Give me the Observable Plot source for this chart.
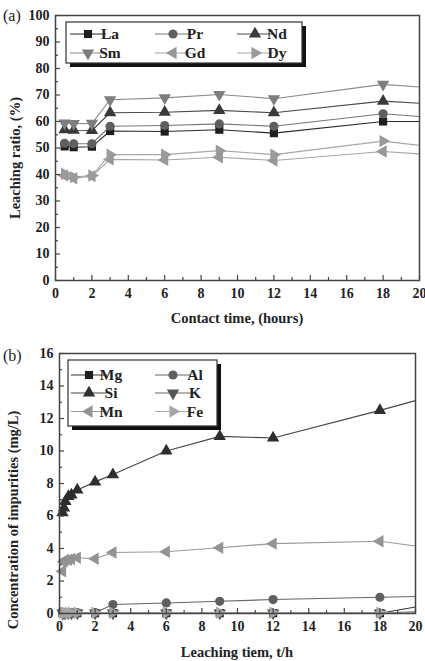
<!DOCTYPE html>
<html>
<head>
<meta charset="utf-8">
<script src="https://cdn.jsdelivr.net/npm/d3@7"></script>
<script src="https://cdn.jsdelivr.net/npm/@observablehq/plot@0.6"></script>
<style>
  body { margin: 0; background: #fff; }
  #wrap { position: relative; width: 425px; height: 661px; }
  #wrap > div { position: absolute; left: 0; }
  svg { display: block; }
</style>
</head>
<body>
<div id="wrap"><div id="pa" style="top:0"></div><div id="pb" style="top:330px"></div></div>
<script>
// ---------- Panel (a) data ----------
const timeA = [0.5, 1, 2, 3, 6, 9, 12, 18, 20];
const La = [50.6, 50.3, 50.5, 56.4, 56.2, 56.9, 55.6, 60.0, 60.0];
const Pr = [51.8, 51.6, 51.6, 58.2, 58.5, 59.1, 58.2, 62.9, 61.9];
const Nd = [56.9, 56.7, 56.6, 63.3, 63.5, 64.2, 63.3, 67.7, 66.9];
const Sm = [59.4, 59.2, 59.3, 68.2, 68.9, 70.2, 68.6, 74.0, 73.0];
const Gd = [39.6, 38.6, 39.4, 45.7, 45.5, 46.5, 45.3, 48.7, 47.8];
const Dy = [40.3, 39.0, 39.6, 47.5, 47.5, 49.0, 47.5, 52.6, 51.0];
const yTicksA = [0, 10, 20, 30, 40, 50, 60, 70, 80, 90, 100];
const xTicks = [0, 2, 4, 6, 8, 10, 12, 14, 16, 18, 20];

// ---------- Panel (b) data ----------
const timeB = [0.17, 0.25, 0.33, 0.5, 0.67, 1, 2, 3, 6, 9, 12, 18, 20];
const Mg = [0.02, 0.02, 0.02, 0.02, 0.02, 0.02, 0.02, 0.02, 0.02, 0.02, 0.02, 0.02, 0.4];
const Al = [0.05, 0.05, 0.05, 0.05, 0.05, 0.05, 0.05, 0.55, 0.65, 0.75, 0.86, 1.0, 1.05];
const Si = [6.2, 6.5, 6.9, 7.2, 7.3, 7.6, 8.1, 8.55, 10.0, 10.9, 10.8, 12.5, 13.1];
const K  = [0.03, 0.03, 0.03, 0.03, 0.03, 0.03, 0.03, 0.03, 0.03, 0.03, 0.03, 0.03, 0.1];
const Mn = [2.6, 3.2, 3.3, 3.3, 3.35, 3.43, 3.37, 3.75, 3.8, 4.05, 4.3, 4.45, 4.15];
const Fe = [0.05, 0.05, 0.05, 0.05, 0.05, 0.05, 0.05, 0.05, 0.05, 0.05, 0.05, 0.05, 0.05];
const yTicksB = [0, 2, 4, 6, 8, 10, 12, 14, 16];

// ---------- styles ----------
const FONT = "'Liberation Serif', 'Times New Roman', serif";
const stylesA = [
  {name: "La", values: La, symbol: "square",   rotate: 0,   fill: "#1e1e1e", stroke: "#2a2a2a"},
  {name: "Pr", values: Pr, symbol: "circle",   rotate: 0,   fill: "#5f5f5f", stroke: "#777"},
  {name: "Nd", values: Nd, symbol: "triangle", rotate: 0,   fill: "#3a3a3a", stroke: "#4a4a4a"},
  {name: "Sm", values: Sm, symbol: "triangle", rotate: 180, fill: "#7d7d7d", stroke: "#8a8a8a"},
  {name: "Gd", values: Gd, symbol: "triangle", rotate: -90, fill: "#979797", stroke: "#a5a5a5"},
  {name: "Dy", values: Dy, symbol: "triangle", rotate: 90,  fill: "#9a9a9a", stroke: "#a8a8a8"}
];
const stylesB = [
  {name: "Mg", values: Mg, symbol: "square",   rotate: 0,   fill: "#1e1e1e", stroke: "#333"},
  {name: "Al", values: Al, symbol: "circle",   rotate: 0,   fill: "#5f5f5f", stroke: "#666"},
  {name: "Si", values: Si, symbol: "triangle", rotate: 0,   fill: "#2e2e2e", stroke: "#444"},
  {name: "K",  values: K,  symbol: "triangle", rotate: 180, fill: "#555",    stroke: "#666"},
  {name: "Mn", values: Mn, symbol: "triangle", rotate: -90, fill: "#939393", stroke: "#999"},
  {name: "Fe", values: Fe, symbol: "triangle", rotate: 90,  fill: "#a5a5a5", stroke: "#aaa"}
];

function seriesMarks(times, styles, r) {
  const marks = [];
  for (const s of styles) {
    const rows = times.map((t, i) => ({t, v: s.values[i]}));
    marks.push(Plot.line(rows, {x: "t", y: "v", stroke: s.stroke, strokeWidth: 1.1}));
    marks.push(Plot.dot(rows.filter(d => d.t < 20), {x: "t", y: "v", symbol: s.symbol, rotate: s.rotate, r, fill: s.fill, stroke: "none"}));
  }
  return marks;
}

function makePanel({W, H, mL, mR, mT, mB, yDomain, yTicks, yMinor, xMinor, times, styles, r}) {
  const pw = W - mL - mR, ph = H - mT - mB;
  return Plot.plot({
    width: W, height: H,
    marginLeft: mL, marginRight: mR, marginTop: mT, marginBottom: mB,
    x: {domain: [0, 20]},
    y: {domain: yDomain},
    style: {fontFamily: FONT, fontSize: "14px", fontWeight: "bold", color: "#222", background: "#fff"},
    marks: [
      ...seriesMarks(times, styles, r),
      Plot.tickY(yTicks, {y: d => d, insetRight: pw - 5, stroke: "#444", strokeWidth: 1.2}),
      Plot.tickY(yMinor, {y: d => d, insetRight: pw - 3, stroke: "#444", strokeWidth: 1.2}),
      Plot.tickX(xTicks, {x: d => d, insetTop: ph - 5, stroke: "#444", strokeWidth: 1.2}),
      Plot.tickX(xMinor, {x: d => d, insetTop: ph - 3, stroke: "#444", strokeWidth: 1.2}),
      Plot.axisY({ticks: yTicks, tickSize: 0, tickPadding: 6, label: null, fill: "#222", fontSize: 14, fontWeight: "bold"}),
      Plot.axisX({ticks: xTicks, tickSize: 0, tickPadding: 8, label: null, fill: "#222", fontSize: 14, fontWeight: "bold"}),
      Plot.frame({stroke: "#444", strokeWidth: 1.5})
    ]
  });
}

function symbolPath(name, r) {
  const size = r * r * Math.PI;
  const t = name === "square" ? d3.symbolSquare : name === "circle" ? d3.symbolCircle : d3.symbolTriangle;
  return d3.symbol(t, size)();
}

function addLegend(svg, styles, box, cols, colX, rowY, r) {
  const g = d3.select(svg).append("g");
  g.append("rect").attr("x", box.x + 4).attr("y", box.y + 4).attr("width", box.w).attr("height", box.h).attr("fill", "#111");
  g.append("rect").attr("x", box.x).attr("y", box.y).attr("width", box.w).attr("height", box.h).attr("fill", "#fff").attr("stroke", "#333").attr("stroke-width", 1.2);
  styles.forEach((s, i) => {
    const c = i % cols, rr = Math.floor(i / cols);
    const x0 = colX[c], y0 = rowY[rr];
    g.append("line").attr("x1", x0).attr("x2", x0 + 36).attr("y1", y0).attr("y2", y0).attr("stroke", s.stroke).attr("stroke-width", 1.2);
    g.append("path").attr("d", symbolPath(s.symbol, r)).attr("transform", `translate(${x0 + 18},${y0}) rotate(${s.rotate})`).attr("fill", s.fill);
    g.append("text").attr("x", x0 + 40).attr("y", y0).attr("dy", "0.35em").attr("font-family", FONT).attr("font-weight", "bold").attr("font-size", "15.5px").attr("fill", "#222").text(s.name);
  });
}

function addText(svg, txt, x, y, opts = {}) {
  const t = d3.select(svg).append("text").attr("x", x).attr("y", y).attr("dy", "0.35em")
    .attr("text-anchor", opts.anchor || "middle").attr("font-family", FONT)
    .attr("font-weight", opts.weight || "bold").attr("font-size", opts.size || "14.5px").attr("fill", "#222").text(txt);
  if (opts.rotate) t.attr("transform", `rotate(${opts.rotate},${x},${y})`);
}

// ---------- Panel (a) ----------
const svgA = makePanel({
  W: 425, H: 330, mL: 55, mR: 6, mT: 15, mB: 50,
  yDomain: [0, 100], yTicks: yTicksA, yMinor: [5, 15, 25, 35, 45, 55, 65, 75, 85, 95],
  xMinor: [1, 3, 5, 7, 9, 11, 13, 15, 17, 19], times: timeA, styles: stylesA, r: 4.6
});
document.getElementById("pa").append(svgA);
addLegend(svgA, stylesA, {x: 66, y: 22, w: 236, h: 41}, 3, [70, 155, 237], [34, 53], 4.6);
addText(svgA, "(a)", 3, 15, {anchor: "start", weight: "normal", size: "16px"});
addText(svgA, "Leaching ratio, (%)", 15, 158, {rotate: -90});
addText(svgA, "Contact time, (hours)", 237, 318);

// ---------- Panel (b) ----------
const svgB = makePanel({
  W: 425, H: 331, mL: 59, mR: 10, mT: 23, mB: 48,
  yDomain: [0, 16], yTicks: yTicksB, yMinor: [1, 3, 5, 7, 9, 11, 13, 15],
  xMinor: [1, 3, 5, 7, 9, 11, 13, 15, 17, 19], times: timeB, styles: stylesB, r: 4.6
});
document.getElementById("pb").append(svgB);
addLegend(svgB, stylesB, {x: 68, y: 30, w: 149, h: 66}, 2, [71, 155], [45, 63, 81.5], 4.6);
addText(svgB, "(b)", 3, 25, {anchor: "start", weight: "normal", size: "16px"});
addText(svgB, "Concentration of impurities (mg/L)", 13, 190, {rotate: -90});
addText(svgB, "Leaching tiem, t/h", 237, 321.5);
</script>
</body>
</html>
